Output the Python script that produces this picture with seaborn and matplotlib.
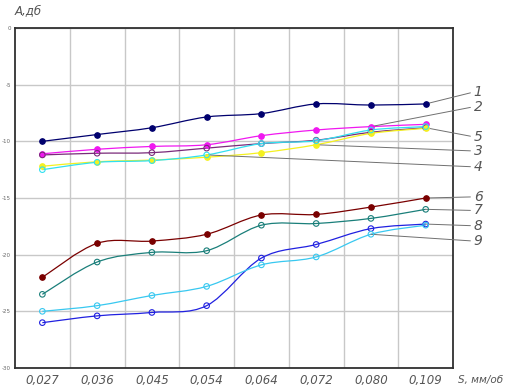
import numpy as np
import pandas as pd
import matplotlib
matplotlib.use('Agg')
import matplotlib.pyplot as plt
from matplotlib.path import Path
from matplotlib.patches import PathPatch
import seaborn as sns

# подачи S, мм/об (категории по оси X)
feeds = ['0,027', '0,036', '0,045', '0,054', '0,064', '0,072', '0,080', '0,109']

# уровни A, дБ по кривым
a1 = [-10.0, -9.4, -8.8, -7.85, -7.55, -6.7, -6.8, -6.7]
a2 = [-11.1, -10.7, -10.45, -10.3, -9.5, -9.0, -8.7, -8.5]
a5 = [-11.2, -11.05, -11.0, -10.6, -10.2, -9.9, -9.2, -8.8]
a3 = [-12.2, -11.8, -11.65, -11.4, -11.0, -10.3, -9.3, -8.85]
a4 = [-12.5, -11.85, -11.7, -11.2, -10.2, -9.95, -9.0, -8.7]
a6 = [-22.0, -19.0, -18.8, -18.2, -16.5, -16.45, -15.8, -15.0]
a7 = [-23.5, -20.65, -19.8, -19.65, -17.4, -17.25, -16.8, -16.0]
a8 = [-26.0, -25.4, -25.1, -24.5, -20.3, -19.1, -17.7, -17.3]
a9 = [-25.0, -24.5, -23.6, -22.8, -20.9, -20.2, -18.2, -17.4]

curve_names = ['1', '2', '5', '3', '4', '6', '7', '8', '9']
curve_vals = [a1, a2, a5, a3, a4, a6, a7, a8, a9]
curve_colors = ['#00006e', '#f018f0', '#7a2a7a', '#f4f020', '#30e0f0',
                '#7a0000', '#1a7f7a', '#2020e0', '#38c8f0']
curve_filled = [True, True, False, True, False, True, False, False, False]
# точка, от которой идёт выноска, и высота номера кривой
leader_idx = [7, 6, 7, 5, 3, 7, 7, 7, 6]
label_y = [-5.65, -6.95, -9.6, -10.85, -12.25, -14.9, -16.1, -17.45, -18.8]

pos = np.arange(len(feeds)) + 0.5

sns.set_style('white')
plt.rcParams['font.family'] = ['DejaVu Sans']

fig = plt.figure(figsize=(5.13, 3.89), dpi=100)
ax = fig.add_axes([0.0292, 0.054, 0.854, 0.874])


def smooth_path(xs, ys):
    pts = np.column_stack([xs, ys])
    n = len(pts)
    verts = [pts[0]]
    codes = [Path.MOVETO]
    for i in range(n - 1):
        p0 = pts[max(i - 1, 0)]
        p1 = pts[i]
        p2 = pts[i + 1]
        p3 = pts[min(i + 2, n - 1)]
        verts += [p1 + (p2 - p0) / 6, p2 - (p3 - p1) / 6, p2]
        codes += [Path.CURVE4] * 3
    return Path(verts, codes)


for name, vals, col, filled in zip(curve_names, curve_vals, curve_colors, curve_filled):
    df = pd.DataFrame({'S': pos, 'A': vals})
    ax.add_patch(PathPatch(smooth_path(df['S'].values, df['A'].values),
                           facecolor='none', edgecolor=col, lw=0.9, zorder=3))
    sns.scatterplot(data=df, x='S', y='A', ax=ax, s=16, zorder=4,
                    color=col if filled else 'none', edgecolor=col,
                    linewidth=0.8)

# выноски с номерами кривых
for name, vals, k, ly in zip(curve_names, curve_vals, leader_idx, label_y):
    ax.annotate(name, xy=(pos[k], vals[k]), xytext=(1.047, ly),
                textcoords=('axes fraction', 'data'),
                fontsize=10, style='italic', color='#555555',
                ha='left', va='center', annotation_clip=False,
                arrowprops=dict(arrowstyle='-', color='#707070', lw=0.7,
                                shrinkA=0, shrinkB=0, relpos=(0, 0.5)))

ax.set_xlim(0, 8)
ax.set_ylim(-30, 0)
ax.set_xticks(pos)
ax.set_xticklabels(feeds, fontsize=8.5, style='italic', color='#555555')
ax.set_xticks(np.arange(1, 8), minor=True)
ax.set_yticks(range(-30, 1, 5))
ax.set_yticklabels([str(v) for v in range(-30, 1, 5)], fontsize=4, color='#666666')
ax.tick_params(which='both', length=0)
ax.tick_params(axis='x', pad=4)
ax.tick_params(axis='y', pad=3)
ax.grid(axis='y', color='#c8c8c8', lw=1.0)
ax.grid(axis='x', which='minor', color='#c8c8c8', lw=1.0)
ax.set_axisbelow(True)
ax.set_xlabel('')
ax.set_ylabel('')
for sp in ax.spines.values():
    sp.set_color('#303030')
    sp.set_linewidth(1.3)

fig.text(0.029, 0.972, 'А,дб', fontsize=8.5, style='italic', color='#555555',
         ha='left', va='center')
fig.text(0.893, 0.024, 'S, мм/об', fontsize=7.5, style='italic', color='#555555',
         ha='left', va='center')

fig.savefig('out.png', dpi=100)
